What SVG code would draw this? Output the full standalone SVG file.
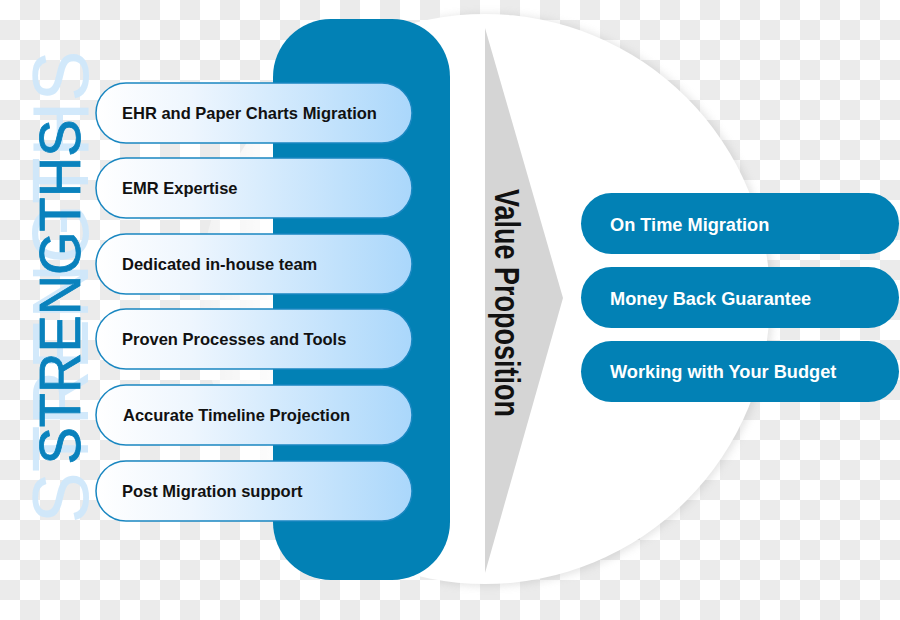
<svg xmlns="http://www.w3.org/2000/svg" width="900" height="620" viewBox="0 0 900 620">
  <defs>
    <pattern id="cb" width="40" height="40" patternUnits="userSpaceOnUse">
      <rect width="40" height="40" fill="#ffffff"/>
      <rect x="20" y="0" width="20" height="20" fill="#ebebeb"/>
      <rect x="0" y="20" width="20" height="20" fill="#ebebeb"/>
    </pattern>
    <linearGradient id="circFill" x1="0" y1="0" x2="1" y2="0">
      <stop offset="0" stop-color="#ffffff" stop-opacity="0.35"/>
      <stop offset="0.16" stop-color="#ffffff" stop-opacity="1"/>
      <stop offset="1" stop-color="#ffffff" stop-opacity="1"/>
    </linearGradient>
    <linearGradient id="pillGrad" x1="0" y1="0" x2="1" y2="0">
      <stop offset="0" stop-color="#ffffff"/>
      <stop offset="0.3" stop-color="#eef6fe"/>
      <stop offset="1" stop-color="#aad7fb"/>
    </linearGradient>
    <filter id="soft" x="-10%" y="-10%" width="120%" height="120%">
      <feGaussianBlur stdDeviation="4"/>
    </filter>
    <clipPath id="rightHalf">
      <rect x="440" y="0" width="460" height="620"/>
    </clipPath>
    <style>
      .lp { fill: url(#pillGrad); stroke: #1a87c1; stroke-width: 1.5; }
      .lt { font-family: "Liberation Sans", Arial, Helvetica, sans-serif; font-weight: bold; font-size: 16.5px; fill: #111111; }
      .rp { fill: #0281b5; }
      .rt { font-family: "Liberation Sans", Arial, Helvetica, sans-serif; font-weight: bold; font-size: 18.2px; fill: #ffffff; }
      .big { font-family: "Liberation Sans", Arial, Helvetica, sans-serif; font-weight: normal; text-anchor: middle; }
    </style>
  </defs>

  <rect width="900" height="620" fill="url(#cb)"/>

  <!-- background circle -->
  <g id="circle">
    <circle cx="487" cy="300" r="286" fill="#9a9a9a" opacity="0.28" filter="url(#soft)" clip-path="url(#rightHalf)"/>
    <circle cx="485" cy="299" r="285" fill="url(#circFill)"/>
  </g>

  <!-- STRENGTHS title -->
  <g id="strengths">
    <text class="big" transform="translate(88,287) rotate(-90)" font-size="80" fill="#cde7fb" fill-opacity="0.9" textLength="473" lengthAdjust="spacingAndGlyphs">STRENGTHS</text>
    <text class="big" transform="translate(80,292) rotate(-90)" font-size="58" fill="#0a82bd" stroke="#0a82bd" stroke-width="0.8" textLength="345" lengthAdjust="spacingAndGlyphs">STRENGTHS</text>
  </g>

  <!-- blue panel -->
  <g id="panel">
    <rect x="273" y="19" width="177" height="561" rx="58" ry="58" fill="#0281b5"/>
  </g>

  <!-- left strengths pills -->
  <g id="s1"><rect class="lp" x="96" y="83" width="316" height="60" rx="30"/><text class="lt" x="122" y="119">EHR and Paper Charts Migration</text></g>
  <g id="s2"><rect class="lp" x="96" y="158" width="316" height="60" rx="30"/><text class="lt" x="122" y="194">EMR Expertise</text></g>
  <g id="s3"><rect class="lp" x="96" y="234" width="316" height="60" rx="30"/><text class="lt" x="122" y="270">Dedicated in-house team</text></g>
  <g id="s4"><rect class="lp" x="96" y="309" width="316" height="60" rx="30"/><text class="lt" x="122" y="345">Proven Processes and Tools</text></g>
  <g id="s5"><rect class="lp" x="96" y="385" width="316" height="60" rx="30"/><text class="lt" x="123" y="421">Accurate Timeline Projection</text></g>
  <g id="s6"><rect class="lp" x="96" y="461" width="316" height="60" rx="30"/><text class="lt" x="122" y="497">Post Migration support</text></g>

  <!-- value proposition arrow -->
  <g id="connectors">
    <polygon points="485,28 563,298 485,573" fill="#d5d5d5"/>
    <text transform="translate(495,303) rotate(90) scale(1,1.32)" text-anchor="middle" font-family="Liberation Sans, Arial, Helvetica, sans-serif" font-weight="bold" font-size="27" fill="#111111">Value Proposition</text>
  </g>

  <!-- right value pills -->
  <g id="v1"><rect class="rp" x="581" y="193" width="318" height="61" rx="30.5"/><text class="rt" x="610" y="231">On Time Migration</text></g>
  <g id="v2"><rect class="rp" x="581" y="267" width="318" height="61" rx="30.5"/><text class="rt" x="610" y="305">Money Back Guarantee</text></g>
  <g id="v3"><rect class="rp" x="581" y="341" width="318" height="61" rx="30.5"/><text class="rt" x="610" y="378">Working with Your Budget</text></g>
</svg>
